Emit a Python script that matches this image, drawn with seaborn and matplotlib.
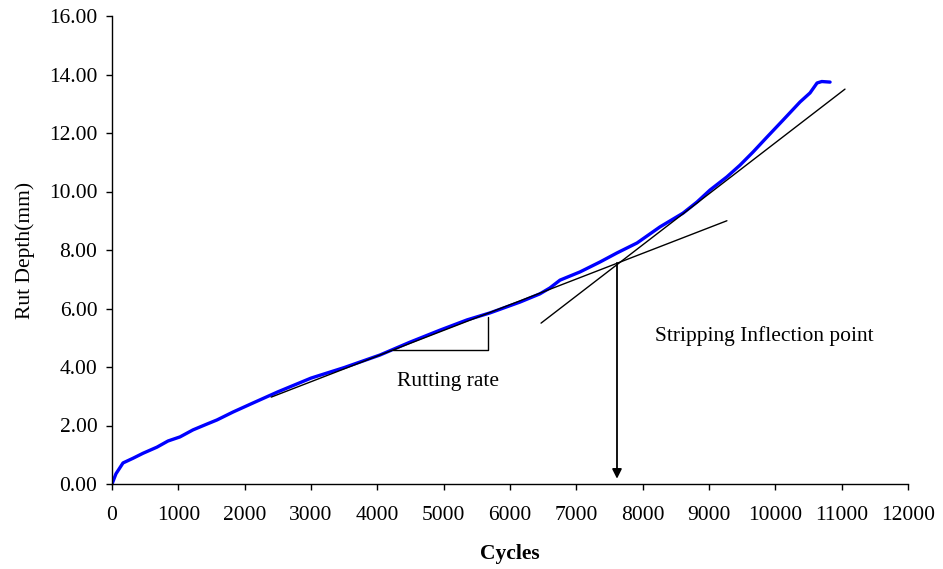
import numpy as np
import pandas as pd
import matplotlib
matplotlib.use("Agg")
import matplotlib.pyplot as plt
import seaborn as sns

cycles = [0, 60, 166, 317, 467, 678, 844, 1025, 1221, 1432, 1583, 1824, 2126, 2500,
          3000, 3500, 4040, 4493, 4945, 5352, 5699, 6151, 6450, 6600, 6754, 7055, 7357,
          7613, 7915, 8261, 8608, 8819, 9015, 9270, 9467, 9664, 9874, 10116, 10372,
          10523, 10629, 10700, 10825]
rut_depth = [0, 0.35, 0.72, 0.88, 1.05, 1.26, 1.47, 1.61, 1.85, 2.05, 2.19, 2.46, 2.77, 3.15,
             3.62, 3.98, 4.41, 4.85, 5.26, 5.61, 5.85, 6.22, 6.50, 6.70, 6.97, 7.25, 7.59,
             7.90, 8.24, 8.79, 9.26, 9.64, 10.05, 10.5, 10.9, 11.35, 11.86, 12.44, 13.06,
             13.37, 13.71, 13.76, 13.74]

# annotation geometry (data coordinates)
rate_line_x = [2400, 9270]
rate_line_y = [2.97, 9.00]
strip_line_x = [6468, 11050]
strip_line_y = [5.50, 13.50]
tri_x = [4236, 5669, 5669]
tri_y = [4.58, 4.58, 5.71]
inflection_x = 7613
inflection_y = 7.56

x_ticks = list(range(0, 12001, 1000))
y_ticks = [0, 2, 4, 6, 8, 10, 12, 14, 16]

sns.set_style("ticks")
plt.rcParams['font.family'] = ['Liberation Serif', 'DejaVu Serif']
plt.rcParams['text.color'] = 'black'
plt.rcParams['axes.labelcolor'] = 'black'

fig = plt.figure(figsize=(9.43, 5.69), dpi=100)
ax = fig.add_axes([112/943, 1 - 484/569, 796/943, 468/569])

df = pd.DataFrame({"Cycles": cycles, "Rut": rut_depth})
sns.lineplot(data=df, x="Cycles", y="Rut", ax=ax, color="#0000FF", linewidth=2.4,
             sort=False)

ax.plot(rate_line_x, rate_line_y, color="black", linewidth=1.0)
ax.plot(strip_line_x, strip_line_y, color="black", linewidth=1.0)
ax.plot(tri_x, tri_y, color="black", linewidth=1.0)
ax.annotate("", xy=(inflection_x, 0.18), xytext=(inflection_x, inflection_y),
            arrowprops=dict(arrowstyle="-|>", color="black", lw=1.3,
                            mutation_scale=14, shrinkA=0, shrinkB=0))

ax.text(5065, 3.52, "Rutting rate", ha="center", va="center", fontsize=15.5,
        color="black")
ax.text(9840, 5.05, "Stripping Inflection point", ha="center", va="center",
        fontsize=15.5, color="black")

ax.set_xlim(0, 12000)
ax.set_ylim(0, 16)
ax.set_xticks(x_ticks)
ax.set_xticklabels([str(t) for t in x_ticks])
ax.set_yticks(y_ticks)
ax.set_yticklabels([f"{t:.2f}" for t in y_ticks])
ax.tick_params(axis="both", direction="out", length=4.5, width=1, labelsize=15.5,
               colors="black")
ax.tick_params(axis="x", pad=11)
ax.tick_params(axis="y", pad=6)
ax.set_xlabel("Cycles", fontsize=15.5, fontweight="bold", labelpad=14, color="black")
ax.set_ylabel("Rut Depth(mm)", fontsize=15.5, labelpad=10, color="black")
for s in ["top", "right"]:
    ax.spines[s].set_visible(False)
for s in ["left", "bottom"]:
    ax.spines[s].set_color("black")
    ax.spines[s].set_linewidth(1.0)

fig.savefig("out.png", dpi=100)
